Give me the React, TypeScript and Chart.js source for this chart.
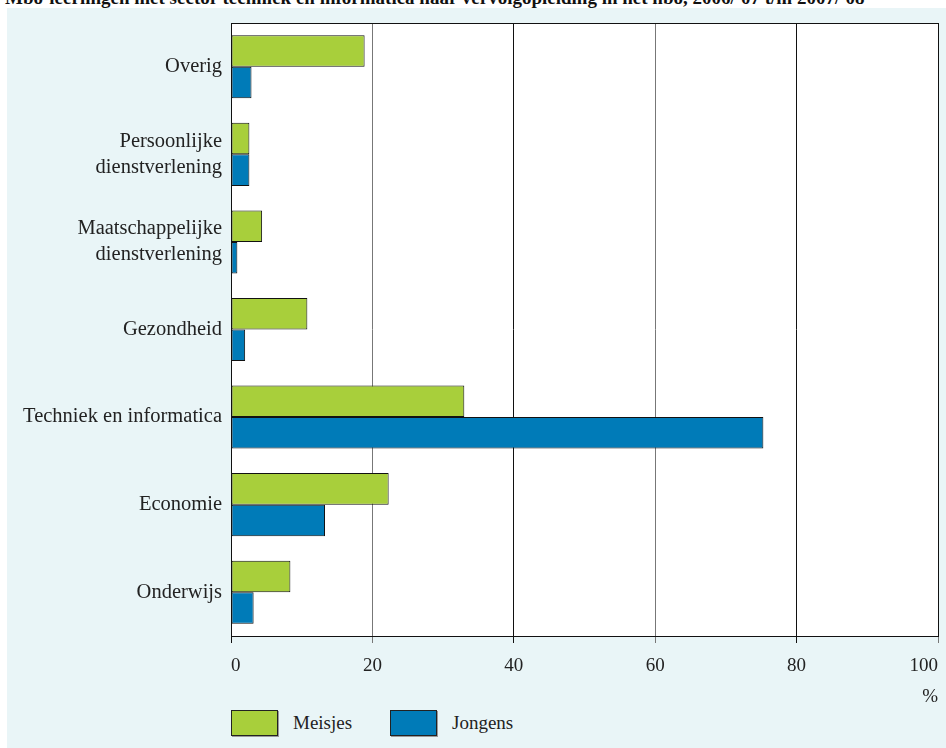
import React, { useEffect, useRef } from "react";
import { Chart, registerables } from "chart.js";

Chart.register(...registerables);

const categories: (string | string[])[] = [
  "Overig",
  ["Persoonlijke", "dienstverlening"],
  ["Maatschappelijke", "dienstverlening"],
  "Gezondheid",
  "Techniek en informatica",
  "Economie",
  "Onderwijs",
];
const meisjes = [18.9, 2.6, 4.4, 10.8, 33.0, 22.3, 8.4];
const jongens = [2.9, 2.6, 0.9, 2.0, 75.3, 13.3, 3.2];
const xTicks = [0, 20, 40, 60, 80, 100];
const titleText =
  "Mbo-leerlingen met sector techniek en informatica naar vervolgopleiding in het hbo, 2006/'07 t/m 2007/'08";

const GREEN = "#a8cf3b";
const BLUE = "#007bb8";
const FONT = "'Liberation Serif', 'Times New Roman', serif";

const frame = {
  id: "frame",
  beforeDraw(chart: any) {
    const { ctx, chartArea } = chart;
    ctx.save();
    ctx.fillStyle = "#ffffff";
    ctx.fillRect(chartArea.left, chartArea.top, chartArea.right - chartArea.left, chartArea.bottom - chartArea.top);
    ctx.restore();
  },
  afterDraw(chart: any) {
    const { ctx, chartArea } = chart;
    ctx.save();
    ctx.strokeStyle = "#111";
    ctx.lineWidth = 1;
    ctx.strokeRect(
      Math.round(chartArea.left) + 0.5,
      Math.round(chartArea.top) + 0.5,
      Math.round(chartArea.right - chartArea.left),
      Math.round(chartArea.bottom - chartArea.top)
    );
    ctx.restore();
  },
};

export default function App() {
  const ref = useRef<HTMLCanvasElement | null>(null);

  useEffect(() => {
    if (!ref.current) return;
    const chart = new Chart(ref.current, {
      type: "bar",
      data: {
        labels: categories,
        datasets: [
          {
            label: "Meisjes",
            data: meisjes,
            backgroundColor: GREEN,
            borderColor: "#111",
            borderWidth: 1,
            borderSkipped: false,
          },
          {
            label: "Jongens",
            data: jongens,
            backgroundColor: BLUE,
            borderColor: "#111",
            borderWidth: 1,
            borderSkipped: false,
          },
        ],
      },
      plugins: [frame],
      options: {
        indexAxis: "y",
        animation: false,
        responsive: false,
        maintainAspectRatio: false,
        layout: { padding: { left: 0, right: 8, top: 15, bottom: 0 } },
        datasets: { bar: { categoryPercentage: 0.72, barPercentage: 1 } },
        plugins: {
          legend: { display: false },
          tooltip: { enabled: false },
          title: { display: false },
        },
        scales: {
          x: {
            type: "linear",
            min: 0,
            max: 100,
            afterBuildTicks: (scale: any) => {
              scale.ticks = xTicks.map((v) => ({ value: v }));
            },
            afterFit: (scale: any) => {
              scale.height = 72;
              scale.paddingLeft = 0;
              scale.paddingRight = 0;
            },
            grid: {
              display: true,
              drawOnChartArea: true,
              drawTicks: true,
              tickLength: 7,
              color: (c: any) => (c.tick && c.tick.value % 40 === 0 ? "#111" : "#777"),
              lineWidth: 1,
            },
            border: { display: true, color: "#111", width: 1 },
            ticks: {
              color: "#222",
              padding: 12,
              align: "inner",
              font: { family: FONT, size: 19 },
              maxRotation: 0,
            },
            title: {
              display: true,
              text: "%",
              align: "end",
              color: "#222",
              padding: { top: 0, bottom: 0 },
              font: { family: FONT, size: 19 },
            },
          },
          y: {
            type: "category",
            afterFit: (scale: any) => {
              scale.width = 224;
              scale.paddingTop = 0;
              scale.paddingBottom = 0;
            },
            grid: { display: false, drawTicks: false },
            border: { display: true, color: "#111", width: 1 },
            ticks: {
              color: "#222",
              padding: 9,
              font: { family: FONT, size: 20.5, lineHeight: 1.27 },
            },
          },
        },
      },
    } as any);
    return () => chart.destroy();
  }, []);

  const legendItem = (color: string, label: string, left: number) => (
    <div style={{ position: "absolute", left, top: 702, display: "flex", alignItems: "center" }}>
      <div
        style={{
          width: 45,
          height: 24,
          background: color,
          border: "1px solid #222",
          boxShadow: "1px 1px 0 #999",
        }}
      />
      <span style={{ marginLeft: 15, fontFamily: FONT, fontSize: 19, color: "#222" }}>{label}</span>
    </div>
  );

  return (
    <div
      style={{
        position: "fixed",
        left: 0,
        top: 0,
        width: 946,
        height: 748,
        overflow: "hidden",
        background: "#ffffff",
      }}
    >
      <div
        style={{
          position: "absolute",
          left: 5,
          top: -13,
          whiteSpace: "nowrap",
          fontFamily: FONT,
          fontWeight: "bold",
          fontSize: 19,
          color: "#111",
        }}
      >
        {titleText}
      </div>
      <div
        style={{
          position: "absolute",
          left: 7,
          top: 8,
          width: 939,
          height: 740,
          background: "#e9f5f7",
        }}
      >
        <canvas ref={ref} width={939} height={700} style={{ display: "block", width: 939, height: 700 }} />
        {legendItem(GREEN, "Meisjes", 224)}
        {legendItem(BLUE, "Jongens", 383)}
      </div>
    </div>
  );
}
